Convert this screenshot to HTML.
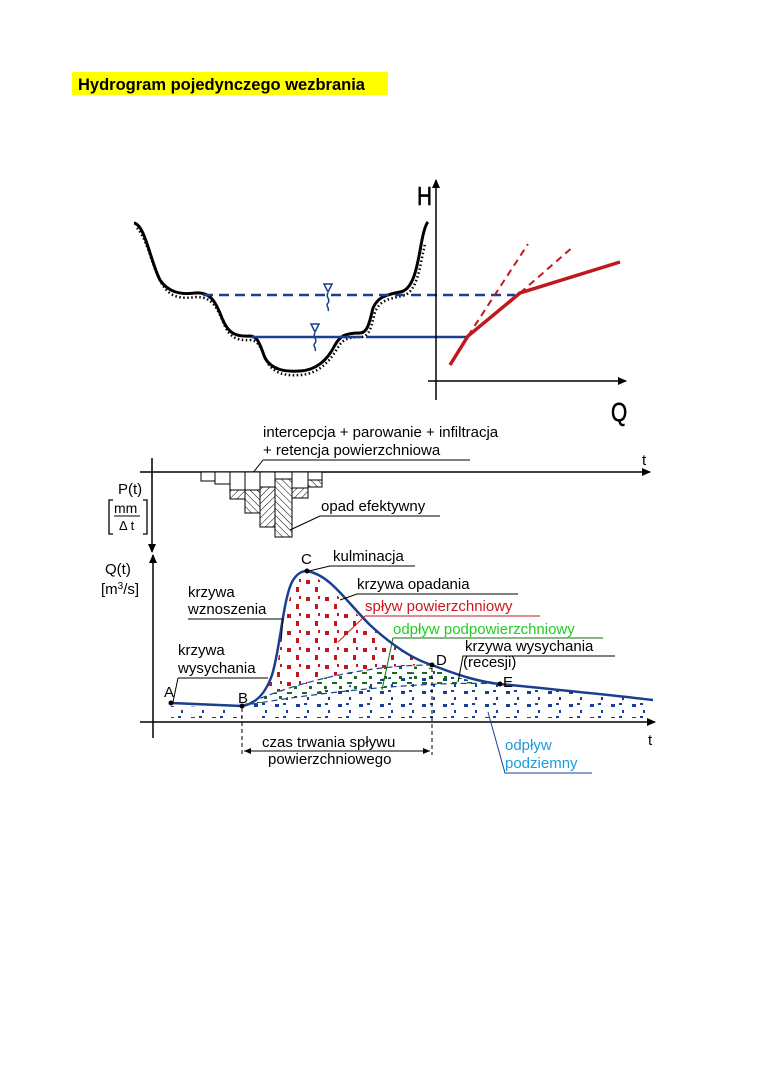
<!DOCTYPE html>
<html><head><meta charset="utf-8"><style>
html,body{margin:0;padding:0;background:#fff;width:760px;height:1075px;overflow:hidden}
svg{display:block}
text{font-family:"Liberation Sans",sans-serif}
</style></head><body>
<svg width="760" height="1075" viewBox="0 0 760 1075" xmlns="http://www.w3.org/2000/svg">
<defs>
<marker id="ar" markerWidth="10" markerHeight="10" refX="8" refY="5" orient="auto" markerUnits="userSpaceOnUse"><path d="M0,1 L9,5 L0,9 Z" fill="#000"/></marker>
<marker id="ar2" markerWidth="8" markerHeight="8" refX="7" refY="4" orient="auto-start-reverse" markerUnits="userSpaceOnUse"><path d="M0,1 L7,4 L0,7 Z" fill="#000"/></marker>
<pattern id="hatch" width="5" height="5" patternUnits="userSpaceOnUse" patternTransform="rotate(45)"><line x1="0" y1="0" x2="0" y2="5" stroke="#000" stroke-width="1"/></pattern>
<pattern id="hatch2" width="5" height="5" patternUnits="userSpaceOnUse" patternTransform="rotate(-45)"><line x1="0" y1="0" x2="0" y2="5" stroke="#000" stroke-width="1"/></pattern>
<pattern id="pr" width="19" height="17" patternUnits="userSpaceOnUse"><rect x="2" y="2" width="4" height="4" fill="#c0181c"/><rect x="11" y="9" width="3" height="5" fill="#c0181c"/><rect x="14" y="1" width="2" height="3" fill="#c0181c"/></pattern>
<pattern id="pg" width="15" height="10" patternUnits="userSpaceOnUse"><rect x="2" y="2" width="5" height="2" fill="#1a6a1a"/><rect x="9" y="6" width="3" height="3" fill="#1a6a1a"/></pattern>
<pattern id="pb" width="21" height="13" patternUnits="userSpaceOnUse"><rect x="2" y="2" width="4" height="3" fill="#1a3f9a"/><rect x="13" y="8" width="2" height="3" fill="#1a3f9a"/><rect x="10" y="1" width="3" height="2" fill="#1a3f9a"/></pattern>
</defs>

<rect x="72" y="72" width="316" height="23" fill="#ffff00"/>
<text x="78" y="90" font-size="16.5" font-weight="bold">Hydrogram pojedynczego wezbrania</text>

<!-- cross section -->
<path d="M137,228 C148,240 152,268 162,284 C170,298 182,299 196,297 C211,297 216,305 223,322 C229,337 236,341 251,340 C259,341 262,350 267,362 C274,374 286,376 300,375 C320,374 331,359 337,349 C342,340 347,337 361,337 C370,337 372,324 375,312 C380,301 387,299 402,296 C418,293 420,264 425,244" fill="none" stroke="#000" stroke-width="2.5" stroke-dasharray="1.5 2.5"/>
<path d="M134,223 C145,225 150,260 160,280 C168,292 180,295 195,293 C210,292 215,300 222,318 C228,333 235,337 250,336 C258,336 260,345 265,358 C272,370 285,372 300,371 C320,370 330,355 335,345 C340,336 345,333 360,333 C368,333 370,320 373,308 C378,297 385,295 400,292 C415,290 418,260 422,240 C424,230 426,224 428,222" fill="none" stroke="#000" stroke-width="3"/>
<line x1="203" y1="295" x2="515" y2="295" stroke="#1a3f8f" stroke-width="2.5" stroke-dasharray="10 6"/>
<line x1="252" y1="337" x2="362" y2="337" stroke="#1a3f8f" stroke-width="2.5"/>
<line x1="366" y1="337" x2="469" y2="337" stroke="#1a3f8f" stroke-width="2.5"/>
<path d="M324,284 L332,284 L328,292 Z" fill="none" stroke="#1a3f8f" stroke-width="1.5"/>
<path d="M328,293 c-3,4 3,6 0,10 c-3,3 2,5 0,8" fill="none" stroke="#1a3f8f" stroke-width="1.5"/>
<path d="M311,324 L319,324 L315,332 Z" fill="none" stroke="#1a3f8f" stroke-width="1.5"/>
<path d="M315,333 c-3,4 3,6 0,10 c-3,3 2,5 0,8" fill="none" stroke="#1a3f8f" stroke-width="1.5"/>
<line x1="436" y1="400" x2="436" y2="180" stroke="#000" stroke-width="1.5" marker-end="url(#ar)"/>
<line x1="428" y1="381" x2="626" y2="381" stroke="#000" stroke-width="1.5" marker-end="url(#ar)"/>
<text x="417" y="205" font-size="26" stroke="#000" stroke-width="0.6" transform="scale(0.8,1)" transform-origin="417 205">H</text>
<text x="611" y="421" font-size="26" stroke="#000" stroke-width="0.6" transform="scale(0.8,1)" transform-origin="611 421">Q</text>
<path d="M450,365 L468,336 L520,293 L620,262" fill="none" stroke="#c0181c" stroke-width="3.5"/>
<line x1="468" y1="336" x2="528" y2="244" stroke="#c0181c" stroke-width="2" stroke-dasharray="7 5"/>
<line x1="520" y1="293" x2="574" y2="246" stroke="#c0181c" stroke-width="2" stroke-dasharray="7 5"/>

<!-- precipitation -->
<text x="263" y="437" font-size="15">intercepcja + parowanie + infiltracja</text>
<text x="263" y="455" font-size="15">+ retencja powierzchniowa</text>
<line x1="263" y1="460" x2="470" y2="460" stroke="#000"/>
<line x1="263" y1="460" x2="252" y2="474" stroke="#000"/>
<line x1="140" y1="472" x2="650" y2="472" stroke="#000" stroke-width="1.5" marker-end="url(#ar)"/>
<text x="642" y="465" font-size="15">t</text>
<line x1="152" y1="458" x2="152" y2="552" stroke="#000" stroke-width="1.5" marker-end="url(#ar)"/>
<g stroke="#000" stroke-width="1" fill="#fff">
<rect x="201" y="472" width="14" height="9"/>
<rect x="215" y="472" width="15" height="12"/>
<rect x="230" y="472" width="15" height="18"/><rect x="230" y="490" width="15" height="9" fill="url(#hatch)"/>
<rect x="245" y="472" width="15" height="18"/><rect x="245" y="490" width="15" height="23" fill="url(#hatch2)"/>
<rect x="260" y="472" width="15" height="15"/><rect x="260" y="487" width="15" height="40" fill="url(#hatch)"/>
<rect x="275" y="472" width="17" height="7"/><rect x="275" y="479" width="17" height="58" fill="url(#hatch2)"/>
<rect x="292" y="472" width="16" height="16"/><rect x="292" y="488" width="16" height="10" fill="url(#hatch)"/>
<rect x="308" y="472" width="14" height="8"/><rect x="308" y="480" width="14" height="7" fill="url(#hatch2)"/>
</g>
<text x="321" y="511" font-size="15">opad efektywny</text>
<line x1="320" y1="516" x2="440" y2="516" stroke="#000"/>
<line x1="320" y1="516" x2="290" y2="530" stroke="#000"/>
<text x="118" y="494" font-size="15">P(t)</text>
<text x="114" y="513" font-size="14">mm</text>
<line x1="114" y1="516" x2="140" y2="516" stroke="#000"/>
<text x="119" y="530" font-size="13">Δ t</text>
<path d="M113,500 h-4 v34 h4 M143,500 h4 v34 h-4" fill="none" stroke="#000" stroke-width="1.3"/>

<!-- hydrograph fills -->
<path d="M171,703 L242,706 C245,706 250,715 260,718 L650,718 L653,700 C600,694 560,690 500,684 C470,682 450,676 432,668 C380,680 300,695 242,706 Z" fill="url(#pb)"/>
<path d="M171,706 L242,708 L242,718 L171,718 Z" fill="url(#pb)"/>
<path d="M242,706 C300,695 420,680 500,684 C470,682 450,676 432,668 C380,660 300,680 242,706 Z" fill="url(#pg)"/>
<path d="M242,706 C260,700 270,690 278,660 C285,620 290,575 307,571 C330,585 350,610 380,635 C400,652 415,660 432,665 C370,665 300,680 242,706 Z" fill="url(#pr)"/>
<path d="M242,706 C300,680 370,665 432,665" fill="none" stroke="#1a3f9a" stroke-width="1.2" stroke-dasharray="6 4"/>
<path d="M242,706 C300,695 420,680 500,684" fill="none" stroke="#1a3f9a" stroke-width="1.2" stroke-dasharray="6 4"/>
<path d="M171,703 L242,706 C255,704 265,695 272,675 C280,650 283,600 292,582 C297,573 302,571 307,571 C330,575 345,600 370,625 C395,648 415,660 432,665 C460,676 480,682 500,684 C560,690 610,695 653,700" fill="none" stroke="#1a3f8f" stroke-width="2.5"/>
<line x1="153" y1="738" x2="153" y2="555" stroke="#000" stroke-width="1.5" marker-end="url(#ar)"/>
<line x1="140" y1="722" x2="655" y2="722" stroke="#000" stroke-width="1.5" marker-end="url(#ar)"/>
<text x="648" y="745" font-size="15">t</text>
<text x="105" y="574" font-size="15">Q(t)</text>
<text x="101" y="594" font-size="15">[m<tspan font-size="10" dy="-5">3</tspan><tspan dy="5">/s]</tspan></text>
<g fill="#000"><circle cx="171" cy="703" r="2.5"/><circle cx="242" cy="706" r="2.5"/><circle cx="307" cy="571" r="2.5"/><circle cx="432" cy="665" r="2.5"/><circle cx="500" cy="684" r="2.5"/></g>
<g font-size="15">
<text x="164" y="697">A</text><text x="238" y="703">B</text><text x="301" y="564">C</text><text x="436" y="665">D</text><text x="503" y="687">E</text>
<text x="333" y="561">kulminacja</text>
<text x="357" y="589">krzywa opadania</text>
<text x="365" y="611" fill="#d0141c">spływ powierzchniowy</text>
<text x="393" y="634" fill="#22cc22">odpływ podpowierzchniowy</text>
<text x="465" y="651">krzywa wysychania</text>
<text x="463" y="667">(recesji)</text>
<text x="188" y="597">krzywa</text><text x="188" y="614">wznoszenia</text>
<text x="178" y="655">krzywa</text><text x="178" y="673">wysychania</text>
<text x="262" y="747">czas trwania spływu</text>
<text x="268" y="764">powierzchniowego</text>
<text x="505" y="750" fill="#1a9ae0">odpływ</text>
<text x="505" y="768" fill="#1a9ae0">podziemny</text>
</g>
<g stroke="#000" stroke-width="1" fill="none">
<path d="M309,571 L330,566 L415,566"/>
<path d="M340,600 L357,594 L518,594"/>
<path d="M188,619 L283,619 L281,642"/>
<path d="M178,678 L268,678 M178,678 L173,702"/>
<path d="M458,682 L463,656 L615,656"/>
<path d="M242,708 V755 M432,668 V755" stroke-dasharray="4 3"/>
<line x1="244" y1="751" x2="430" y2="751" marker-start="url(#ar2)" marker-end="url(#ar2)"/>
</g>
<path d="M338,642 L365,616 L540,616" stroke="#c0181c" fill="none"/>
<path d="M382,690 L393,638 L603,638" stroke="#1a6a1a" fill="none"/>
<path d="M488,712 L505,773 L592,773" stroke="#1a3f9a" fill="none"/>
</svg>
</body></html>
